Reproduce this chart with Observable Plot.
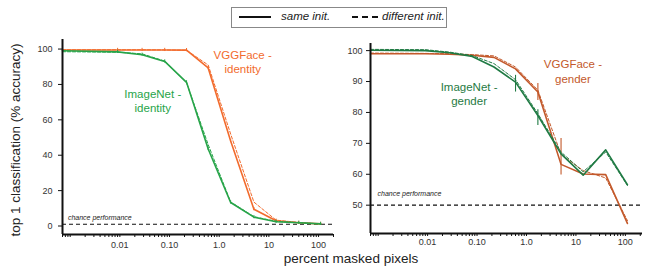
<!DOCTYPE html>
<html><head><meta charset="utf-8">
<script src="https://cdn.jsdelivr.net/npm/d3@7"></script>
<script src="https://cdn.jsdelivr.net/npm/@observablehq/plot@0.6"></script>
<style>
body{margin:0;background:#fff;font-family:"Liberation Sans",Arial,Helvetica,sans-serif;}
#wrap{position:relative;width:653px;height:279px;overflow:hidden;background:#fff;}
#wrap svg{position:absolute;top:0;background:transparent;}
.t{position:absolute;white-space:nowrap;color:#222;}
</style></head><body><div id="wrap"></div>
<script>
// ---- data ----
const maskedPct = [0.0007, 0.009, 0.028, 0.08, 0.22, 0.6, 1.7, 5, 14, 40, 110];

const imagenetIdentitySame = [99.0, 98.4, 96.8, 93.0, 81.2, 43.5, 13.3, 5.0, 2.4, 1.8, 1.2];
const imagenetIdentityDiff = [98.5, 98.2, 97.3, 93.2, 81.0, 46.0, 13.6, 5.3, 2.6, 1.9, 1.2];
const vggfaceIdentitySame  = [99.5, 99.5, 99.5, 99.5, 99.4, 89.3, 48.0, 9.5, 3.0, 1.8, 1.2];
const vggfaceIdentityDiff  = [99.6, 99.6, 99.6, 99.5, 99.3, 91.0, 52.0, 13.5, 3.3, 2.0, 1.2];

const imagenetGenderSame = [100.1, 100.0, 99.3, 98.1, 94.7, 89.8, 79.0, 66.6, 59.7, 67.9, 56.6];
const imagenetGenderDiff = [100.4, 100.3, 99.5, 98.4, 95.8, 90.6, 79.6, 67.2, 60.8, 67.2, 56.4];
const vggfaceGenderSame  = [99.0, 99.0, 98.8, 98.5, 97.8, 94.1, 86.6, 63.2, 60.1, 59.9, 44.1];
const vggfaceGenderDiff  = [99.2, 99.1, 99.0, 98.7, 98.3, 94.7, 87.2, 66.4, 61.2, 58.8, 45.0];

// error bars (gender panel)
const imagenetGenderErrX = [0.6, 1.7];
const imagenetGenderErrLo = [86.6, 75.8];
const imagenetGenderErrHi = [92.0, 80.9];
const vggfaceGenderErrX = [1.7, 5];
const vggfaceGenderErrLo = [83.9, 59.8];
const vggfaceGenderErrHi = [89.4, 71.6];

const chanceIdentity = 1;
const chanceGender = 50;

const xTickValues = [0.01, 0.1, 1, 10, 100];
const xTickLabels = ["0.01", "0.10", "1.0", "10", "100"];
const identityYTicks = [0, 20, 40, 60, 80, 100];
const genderYTicks = [50, 60, 70, 80, 90, 100];

// ---- helpers ----
const C = {idOrange: "#f26b2d", idGreen: "#27a449", gOrange: "#c3592b", gGreen: "#1f7a43"};
const toRows = (ys) => maskedPct.map((x, i) => ({x, y: ys[i]}));
const toErr = (xs, lo, hi) => xs.map((x, i) => ({x, lo: lo[i], hi: hi[i]}));
const minorTicks = [];
for (let e = -4; e <= 2; e++) for (let m = 1; m <= 9; m++) minorTicks.push(m * Math.pow(10, e));
const fmtX = d => xTickLabels[xTickValues.indexOf(d)];

function panel(o) {
  const xs = minorTicks.filter(v => v >= o.xDomain[0] && v <= o.xDomain[1]);
  const marks = [
    Plot.ruleY([o.chance], {stroke: "#111", strokeWidth: 1.2, strokeDasharray: "4,3"}),
    Plot.text([{x: o.chanceAt[0], y: o.chanceAt[1]}], {x: "x", y: "y", text: () => "chance performance",
      textAnchor: "start", fontSize: 7, fontStyle: "italic", fill: "#222"}),
  ];
  for (const s of o.series) {
    marks.push(Plot.line(toRows(s.diff), {x: "x", y: "y", stroke: s.color, strokeWidth: 1, strokeDasharray: "3,2"}));
    marks.push(Plot.line(toRows(s.same), {x: "x", y: "y", stroke: s.color, strokeWidth: 1.6}));
    if (s.err) marks.push(Plot.ruleX(s.err, {x: "x", y1: "lo", y2: "hi", stroke: s.color, strokeWidth: 1.1}));
    if (o.pointTicks) marks.push(Plot.ruleX(toRows(s.same).slice(1), {x: "x", y1: d => d.y - o.pointTicks, y2: d => d.y + o.pointTicks, stroke: s.color, strokeWidth: 1}));
    marks.push(Plot.text([s.label], {x: "x", y: "y", text: "text", fill: s.color, fontSize: 11.5, lineHeight: 1.22}));
  }
  marks.push(
    Plot.axisX(xs, {tickSize: 3, tickFormat: () => "", stroke: "#111"}),
    Plot.axisX(xTickValues, {tickSize: 0, tickPadding: o.xPad, tickFormat: fmtX, fontSize: 9, fill: "#333"}),
    Plot.axisY(o.yTicks, {tickSize: 4, tickPadding: o.yPad, fontSize: 9, fill: "#333", stroke: "#111"}),
    Plot.ruleX([o.xDomain[0]], {stroke: "#111", strokeWidth: 2}),
    Plot.ruleY([o.yDomain[0]], {stroke: "#111", strokeWidth: 2})
  );
  const svg = Plot.plot({
    width: o.width, height: 279,
    marginLeft: o.ml, marginRight: o.mr, marginTop: o.mt, marginBottom: o.mb,
    style: {fontFamily: '"Liberation Sans", Arial, sans-serif', background: "transparent"},
    x: {type: "log", domain: o.xDomain, label: null},
    y: {domain: o.yDomain, label: null},
    marks
  });
  svg.style.left = o.left + "px";
  return svg;
}

const wrap = document.getElementById("wrap");
wrap.appendChild(panel({
  left: 0, width: 340, ml: 62, mr: 7, mt: 39, mb: 45,
  xDomain: [0.0007, 200], yDomain: [-4.8, 105.4], yTicks: identityYTicks,
  chance: chanceIdentity, chanceAt: [0.0009, 4.8], xPad: 7, yPad: 6, pointTicks: 0.9,
  series: [
    {same: vggfaceIdentitySame, diff: vggfaceIdentityDiff, color: C.idOrange, label: {x: 2.97, y: 93.2, text: "VGGFace -\nidentity"}},
    {same: imagenetIdentitySame, diff: imagenetIdentityDiff, color: C.idGreen, label: {x: 0.046, y: 70.9, text: "ImageNet -\nidentity"}}
  ]
}));
wrap.appendChild(panel({
  left: 340, width: 313, ml: 30, mr: 11, mt: 43, mb: 46,
  xDomain: [0.0007, 222], yDomain: [40.84, 102.3], yTicks: genderYTicks,
  chance: chanceGender, chanceAt: [0.00097, 53.8], xPad: 5, yPad: 4, pointTicks: 0,
  series: [
    {same: vggfaceGenderSame, diff: vggfaceGenderDiff, color: C.gOrange, err: toErr(vggfaceGenderErrX, vggfaceGenderErrLo, vggfaceGenderErrHi), label: {x: 8.7, y: 93.4, text: "VGGFace -\ngender"}},
    {same: imagenetGenderSame, diff: imagenetGenderDiff, color: C.gGreen, err: toErr(imagenetGenderErrX, imagenetGenderErrLo, imagenetGenderErrHi), label: {x: 0.069, y: 86, text: "ImageNet -\ngender"}}
  ]
}));

// legend
const leg = document.createElement("div");
leg.style.cssText = "position:absolute;left:231px;top:7px;width:216px;height:21px;border:1px solid #888;box-sizing:border-box;background:#fff;";
leg.innerHTML =
  '<div style="position:absolute;left:7px;top:8px;width:32px;border-top:2px solid #111"></div>' +
  '<div class="t" style="left:49px;top:2px;font-size:11.5px;font-style:italic;">same init.</div>' +
  '<div style="position:absolute;left:120px;top:8px;width:26px;border-top:2px dashed #111"></div>' +
  '<div class="t" style="left:150px;top:2px;font-size:11.5px;font-style:italic;">different init.</div>';
wrap.appendChild(leg);

// axis titles
const xt = document.createElement("div");
xt.className = "t";
xt.style.cssText += "left:351px;top:258px;transform:translate(-50%,-50%);font-size:13.5px;";
xt.textContent = "percent masked pixels";
wrap.appendChild(xt);
const yt = document.createElement("div");
yt.className = "t";
yt.style.cssText += "left:15px;top:140px;transform:translate(-50%,-50%) rotate(-90deg);font-size:13.5px;";
yt.textContent = "top 1 classification (% accuracy)";
wrap.appendChild(yt);
</script></body></html>
